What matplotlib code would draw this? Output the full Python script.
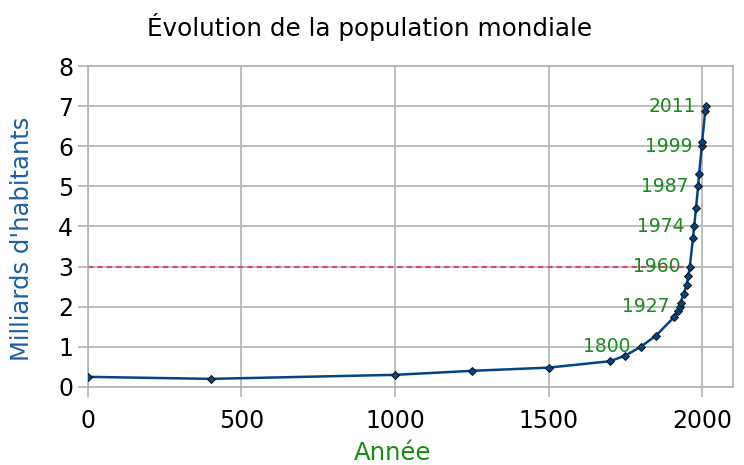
# evolution de la population mondiale
import numpy as np
import matplotlib.pyplot as plt

# data
annees = [0, 400, 1000, 1250, 1500, 1700, 1750, 1800, 1850, 1910, 1920, 1927, 1930,
          1940, 1950, 1955, 1960, 1970, 1974, 1980, 1987, 1990, 1999, 2000, 2010, 2011]
population = [0.25, 0.2, 0.3, 0.4, 0.48, 0.64, 0.78, 1.0, 1.28, 1.75, 1.88, 2.0, 2.1,
              2.32, 2.55, 2.77, 3.0, 3.7, 4.0, 4.45, 5.0, 5.3, 6.0, 6.1, 6.88, 7.0]
jalons = [1800, 1927, 1960, 1974, 1987, 1999, 2011]
jalons_pop = [1, 2, 3, 4, 5, 6, 7]
seuil = 3

grid_col = '#b3b3b3'
fig, ax = plt.subplots(figsize=(7.44, 4.65), dpi=100)
fig.subplots_adjust(left=0.118, right=0.985, top=0.858, bottom=0.168)

ax.plot([0, 1960], [seuil, seuil], color='#e0407f', lw=1.5, ls=(0, (2.5, 2)), zorder=2)
ax.plot(annees, population, color='#004586', lw=1.8, marker='D', ms=4.5,
        mfc='#004586', mec='#111111', mew=0.7, zorder=3)

for a, p in zip(jalons, jalons_pop):
    ax.annotate(str(a), (a, p), xytext=(-7, 0), textcoords='offset points',
                ha='right', va='center', color='#1a8a1a', fontsize=13.5)

ax.set_xlim(0, 2100)
ax.set_ylim(0, 8)
ax.set_xticks(np.arange(0, 2001, 500))
ax.set_yticks(np.arange(0, 9, 1))
ax.grid(True, color=grid_col, lw=1.2)
ax.set_axisbelow(True)
for s in ax.spines.values():
    s.set_color(grid_col)
    s.set_linewidth(1.2)
ax.tick_params(colors=grid_col, labelcolor='black', labelsize=17, length=7, width=1.2)
ax.tick_params(axis='x', pad=9)

fig.text(0.497, 1 - 36 / 465, 'Évolution de la population mondiale', fontsize=17.7,
         ha='center', va='baseline')
ax.set_xlabel('Année', color='#1a8a1a', fontsize=17.5)
ax.xaxis.set_label_coords(0.473, -0.17)
ax.set_ylabel("Milliards d'habitants", color='#1f5fa0', fontsize=17.5)
ax.yaxis.set_label_coords(-0.083, 0.462)

plt.savefig('out.png')
